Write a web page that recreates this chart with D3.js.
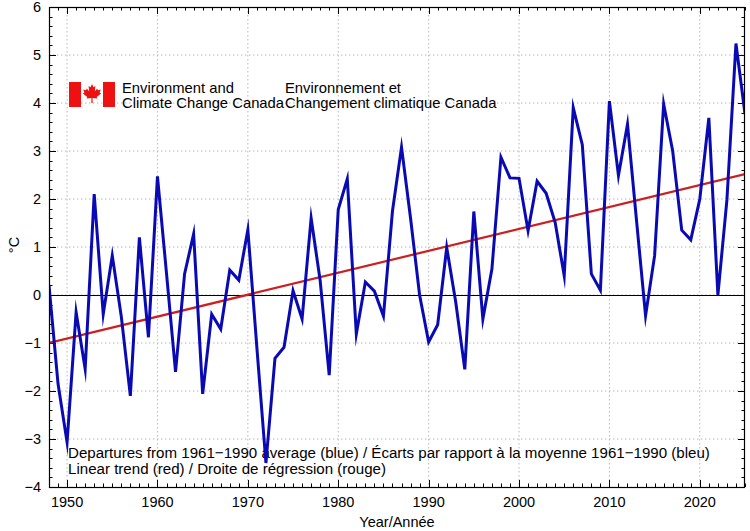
<!DOCTYPE html>
<html>
<head>
<meta charset="utf-8">
<script src="https://cdn.jsdelivr.net/npm/d3@7"></script>
<style>
  html, body { margin: 0; padding: 0; background: #fff; }
  svg { display: block; }
  text { font-family: "Liberation Sans", Arial, Helvetica, sans-serif; fill: #000; }
</style>
</head>
<body>
<script>
// ---- Data ----
const years = d3.range(1948, 2026);
const departures = [
  0.2, -1.85, -3.07, -0.36, -1.54, 2.1, -0.4, 0.82, -0.45, -2.1,
  1.2, -0.88, 2.47, 0.45, -1.6, 0.44, 1.27, -2.06, -0.4, -0.71,
  0.52, 0.31, 1.36, -1.1, -3.5, -1.32, -1.09, 0.09, -0.5, 1.6,
  0.3, -1.67, 1.78, 2.42, -0.81, 0.27, 0.08, -0.44, 1.75, 3.08,
  1.6, 0.0, -0.98, -0.62, 0.99, -0.15, -1.55, 1.74, -0.5, 0.54,
  2.87, 2.44, 2.43, 1.34, 2.37, 2.12, 1.51, 0.4, 3.9, 3.13,
  0.44, 0.1, 4.04, 2.49, 3.56, 1.55, -0.43, 0.82, 3.98, 3.0,
  1.35, 1.15, 2.0, 3.69, 0.0, 1.98, 5.24, 3.77
];
const trendYears = [1948, 2025];
const trendValues = [-1.0, 2.52];
const xTicks = [1950, 1960, 1970, 1980, 1990, 2000, 2010, 2020];
const yTicks = [-4, -3, -2, -1, 0, 1, 2, 3, 4, 5, 6];
const noteLines = [
  "Departures from 1961\u22121990 average (blue) / \u00c9carts par rapport \u00e0 la moyenne 1961\u22121990 (bleu)",
  "Linear trend (red) / Droite de r\u00e9gression (rouge)"
];
const logoEn = ["Environment and", "Climate Change Canada"];
const logoFr = ["Environnement et", "Changement climatique Canada"];

// ---- Layout ----
const W = 750, H = 531;
const L = 49, R = 745, T = 7, B = 487;

const svg = d3.select("body").append("svg").attr("width", W).attr("height", H);

const x = d3.scaleLinear().domain([1948, 2025]).range([L, R]);
const y = d3.scaleLinear().domain([-4, 6]).range([B, T]);

// Grid
const grid = svg.append("g");
grid.selectAll("line.gx").data(xTicks).join("line")
  .attr("x1", d => x(d)).attr("x2", d => x(d))
  .attr("y1", T).attr("y2", B)
  .attr("stroke", "#b8b8b8").attr("stroke-width", 1).attr("stroke-dasharray", "1.5,2.5");
grid.selectAll("line.gy").data(yTicks.filter(d => d > -4 && d < 6)).join("line")
  .attr("x1", L).attr("x2", R)
  .attr("y1", d => y(d)).attr("y2", d => y(d))
  .attr("stroke", "#b8b8b8").attr("stroke-width", 1).attr("stroke-dasharray", "1.5,2.5");

// Ticks (inward, all sides)
const ticks = svg.append("g").attr("stroke", "#000").attr("stroke-width", 1);
const minorX = d3.range(1948, 2026);
minorX.forEach(yr => {
  const major = yr % 10 === 0;
  const len = major ? 7 : 3.5;
  const xx = Math.round(x(yr)) + 0.5;
  ticks.append("line").attr("x1", xx).attr("x2", xx).attr("y1", B).attr("y2", B - len);
  ticks.append("line").attr("x1", xx).attr("x2", xx).attr("y1", T).attr("y2", T + len);
});
const minorY = d3.range(-40, 61, 2).map(d => d / 10);
minorY.forEach(v => {
  const major = Math.abs(v - Math.round(v)) < 1e-9;
  const len = major ? 7 : 3.5;
  const yy = Math.round(y(v)) + 0.5;
  ticks.append("line").attr("x1", L).attr("x2", L + len).attr("y1", yy).attr("y2", yy);
  ticks.append("line").attr("x1", R).attr("x2", R - len).attr("y1", yy).attr("y2", yy);
});

// Tick labels
svg.append("g").selectAll("text").data(xTicks).join("text")
  .attr("x", d => x(d)).attr("y", 507)
  .attr("text-anchor", "middle").attr("font-size", 14.5)
  .text(d => d);
svg.append("g").selectAll("text").data(yTicks).join("text")
  .attr("x", 41).attr("y", d => y(d) + 5)
  .attr("text-anchor", "end").attr("font-size", 14.5)
  .text(d => d < 0 ? "\u2212" + Math.abs(d) : d);

// Axis titles
svg.append("text").attr("x", 397).attr("y", 527).attr("text-anchor", "middle")
  .attr("font-size", 14.5).text("Year/Ann\u00e9e");
svg.append("text").attr("transform", "translate(19,245) rotate(-90)")
  .attr("text-anchor", "middle").attr("font-size", 14.5).text("\u00b0C");

// Logo
const logo = svg.append("g");
logo.append("rect").attr("x", 69).attr("y", 82).attr("width", 12).attr("height", 25).attr("fill", "#ee1111");
logo.append("rect").attr("x", 103).attr("y", 82).attr("width", 12).attr("height", 25).attr("fill", "#ee1111");
const leaf = [[0,-1],[0.16,-0.68],[0.36,-0.8],[0.3,-0.28],[0.55,-0.55],[0.62,-0.38],[0.92,-0.44],[0.8,-0.14],[0.96,-0.04],[0.5,0.3],[0.56,0.46],[0.06,0.4],[0.07,0.9],[-0.07,0.9],[-0.06,0.4],[-0.56,0.46],[-0.5,0.3],[-0.96,-0.04],[-0.8,-0.14],[-0.92,-0.44],[-0.62,-0.38],[-0.55,-0.55],[-0.3,-0.28],[-0.36,-0.8],[-0.16,-0.68]];
logo.append("path")
  .attr("d", d3.line()(leaf.map(p => [92 + p[0] * 9.5, 94 + p[1] * 10])) + "Z")
  .attr("fill", "#ee1111");
logo.append("g").selectAll("text").data(logoEn).join("text")
  .attr("x", 122).attr("y", (d, i) => 93 + i * 14.5).attr("font-size", 14.8).text(d => d);
logo.append("g").selectAll("text").data(logoFr).join("text")
  .attr("x", 285).attr("y", (d, i) => 93 + i * 14.5).attr("font-size", 14.8).text(d => d);

// Notes
svg.append("g").selectAll("text").data(noteLines).join("text")
  .attr("x", 68).attr("y", (d, i) => 458 + i * 15.5).attr("font-size", 15.1).text(d => d);

// Zero line
svg.append("line").attr("x1", L).attr("x2", R).attr("y1", Math.round(y(0)) + 0.5).attr("y2", Math.round(y(0)) + 0.5)
  .attr("stroke", "#000").attr("stroke-width", 1.2);

// Clip
svg.append("clipPath").attr("id", "clip").append("rect")
  .attr("x", L).attr("y", T).attr("width", R - L).attr("height", B - T);

// Trend line
const trend = trendYears.map((yr, i) => ({ year: yr, value: trendValues[i] }));
svg.append("path").datum(trend)
  .attr("clip-path", "url(#clip)")
  .attr("d", d3.line().x(d => x(d.year)).y(d => y(d.value)))
  .attr("fill", "none").attr("stroke", "#cc1f1f").attr("stroke-width", 2.2);

// Departures line
const series = years.map((yr, i) => ({ year: yr, value: departures[i] }));
svg.append("path").datum(series)
  .attr("clip-path", "url(#clip)")
  .attr("d", d3.line().x(d => x(d.year)).y(d => y(d.value)))
  .attr("fill", "none").attr("stroke", "#0a0ab4").attr("stroke-width", 3)
  .attr("stroke-linejoin", "miter").attr("stroke-miterlimit", 10);

// Frame
svg.append("rect").attr("x", L + 0.5).attr("y", T + 0.5).attr("width", R - L - 1).attr("height", B - T)
  .attr("fill", "none").attr("stroke", "#000").attr("stroke-width", 1.2);
</script>
</body>
</html>
